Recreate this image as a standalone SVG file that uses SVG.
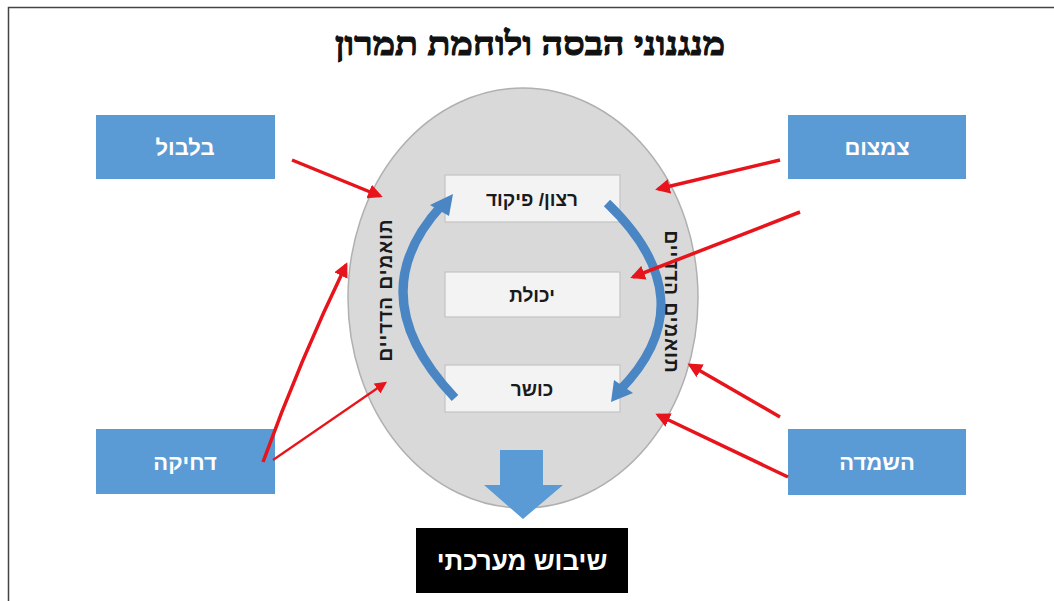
<svg xmlns="http://www.w3.org/2000/svg" width="1054" height="601" viewBox="0 0 1054 601">
<defs>
<style>
.title{font-family:"Liberation Serif","DejaVu Serif",serif;font-weight:bold;font-size:33px;fill:#111;stroke:#111;stroke-width:1.1;}
.btxt{font-family:"Liberation Sans","DejaVu Sans",sans-serif;font-weight:bold;font-size:22px;fill:#fff;}
.itxt{font-family:"Liberation Sans","DejaVu Sans",sans-serif;font-weight:bold;font-size:19px;fill:#1a1a1a;}
.vtxt{font-family:"Liberation Sans","DejaVu Sans",sans-serif;font-weight:bold;font-size:19px;fill:#1a1a1a;}
.blue{fill:#5b9bd5;}
.inner{fill:#f3f3f4;stroke:#c4c4c4;stroke-width:1.2;}
.red{stroke:#e8141b;stroke-width:3.5;fill:none;marker-end:url(#rh);}
.redthin{stroke:#e8141b;stroke-width:2.2;fill:none;marker-end:url(#rh2);}
.arc{stroke:#4a86c4;stroke-width:9;fill:none;}
</style>
<marker id="rh" viewBox="0 0 10 10" refX="8" refY="5" markerWidth="4.2" markerHeight="4.2" orient="auto" markerUnits="strokeWidth">
<path d="M0,0 L10,5 L0,10 Z" fill="#e8141b"/>
</marker>
<marker id="rh2" viewBox="0 0 10 10" refX="8" refY="5" markerWidth="5.5" markerHeight="5.5" orient="auto" markerUnits="strokeWidth">
<path d="M0,0 L10,5 L0,10 Z" fill="#e8141b"/>
</marker>
</defs>
<rect x="0" y="0" width="1054" height="601" fill="#fff"/>
<rect x="8.5" y="7.5" width="1060" height="610" fill="none" stroke="#444" stroke-width="1.5"/>
<text class="title" x="530" y="55" text-anchor="middle" direction="rtl" textLength="390" lengthAdjust="spacingAndGlyphs">מנגנוני הבסה ולוחמת תמרון</text>

<g id="ellipse">
<ellipse cx="523" cy="298" rx="175" ry="210" fill="#d9d9d9" stroke="#b0b0b0" stroke-width="1.5"/>
</g>

<g id="node-ratzon">
<rect class="inner" x="445" y="175" width="175" height="47"/>
<text class="itxt" x="532" y="206" text-anchor="middle" direction="rtl">רצון/ פיקוד</text>
</g>
<g id="node-yecholet">
<rect class="inner" x="445" y="272" width="175" height="45"/>
<text class="itxt" x="532" y="302" text-anchor="middle" direction="rtl">יכולת</text>
</g>
<g id="node-kosher">
<rect class="inner" x="445" y="365" width="175" height="47"/>
<text class="itxt" x="532" y="396" text-anchor="middle" direction="rtl">כושר</text>
</g>

<g id="label-left">
<text class="vtxt" transform="translate(392,290) rotate(-90)" text-anchor="middle" direction="rtl" letter-spacing="1">תואמים הדדיים</text>
</g>
<g id="label-right">
<text class="vtxt" transform="translate(665,302) rotate(90)" text-anchor="middle" direction="rtl" letter-spacing="1">תואמים הדדיים</text>
</g>

<g id="node-bilbul">
<rect class="blue" x="96" y="115" width="179" height="64"/>
<text class="btxt" x="185" y="155" text-anchor="middle" direction="rtl">בלבול</text>
</g>
<g id="node-tzimtzum">
<rect class="blue" x="788" y="115" width="178" height="64"/>
<text class="btxt" x="877" y="155" text-anchor="middle" direction="rtl">צמצום</text>
</g>
<g id="node-dchika">
<rect class="blue" x="96" y="429" width="179" height="65"/>
<text class="btxt" x="185" y="470" text-anchor="middle" direction="rtl">דחיקה</text>
</g>
<g id="node-hashmada">
<rect class="blue" x="788" y="429" width="178" height="66"/>
<text class="btxt" x="877" y="470" text-anchor="middle" direction="rtl">השמדה</text>
</g>

<g id="node-shibush">
<rect x="416" y="528" width="212" height="65" fill="#000"/>
<text x="522" y="570" text-anchor="middle" direction="rtl" style="font-family:'Liberation Sans','DejaVu Sans',sans-serif;font-weight:bold;font-size:26px;fill:#fff;">שיבוש מערכתי</text>
</g>

<g id="connectors">
<path class="arc" d="M455,398 Q358,296 442,205"/>
<polygon points="453,194 449,216 430,205" fill="#4a86c4"/>
<path class="arc" d="M607,203 Q708,300 620,390"/>
<polygon points="611,402 614,380 633,393" fill="#4a86c4"/>
<polygon points="500,450 543,450 543,485 563,485 523,519 484,485 500,485" fill="#5b9bd5"/>

<line class="red" x1="292" y1="160" x2="380" y2="196"/>
<line class="red" x1="780" y1="160" x2="658" y2="189"/>
<line class="red" x1="800" y1="212" x2="633" y2="277"/>
<line class="red" x1="780" y1="417" x2="690" y2="365"/>
<line class="red" x1="788" y1="477" x2="658" y2="415"/>
<path class="red" d="M263,462 Q300,360 346,265"/>
<line class="redthin" x1="273" y1="460" x2="385" y2="383"/>
</g>
</svg>
